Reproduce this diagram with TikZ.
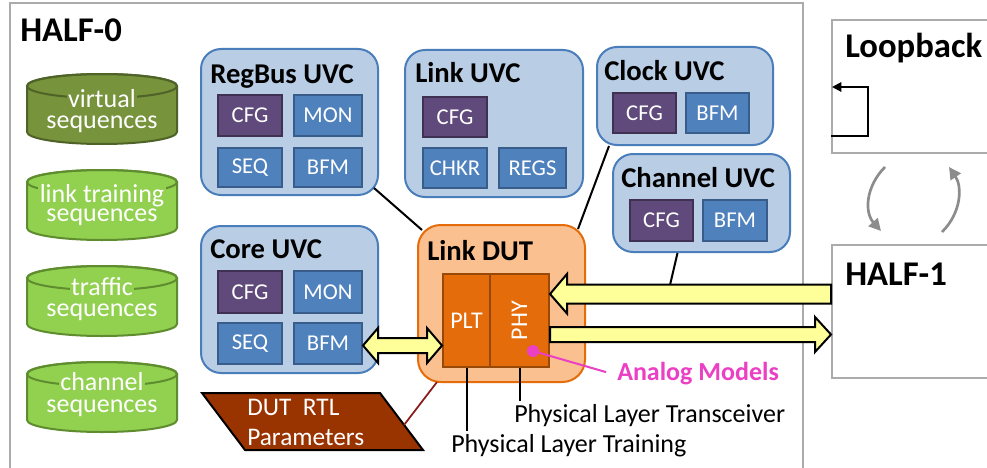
\documentclass[tikz,border=0pt]{standalone}
\usepackage{fontspec}
\usepackage{graphicx}
\setmainfont{Carlito}
\usetikzlibrary{calc,arrows.meta}
\definecolor{dkgreen}{HTML}{77933C}
\definecolor{dkgreenB}{HTML}{4F6228}
\definecolor{ltgreen}{HTML}{92D050}
\definecolor{ltgreenB}{HTML}{5E8C2E}
\definecolor{uvcfill}{HTML}{B9CDE5}
\definecolor{uvcdraw}{HTML}{4A7EBB}
\definecolor{cfgfill}{HTML}{604A7B}
\definecolor{cfgdraw}{HTML}{3F3151}
\definecolor{blkfill}{HTML}{4F81BD}
\definecolor{blkdraw}{HTML}{385D8A}
\definecolor{dutfill}{HTML}{FAC090}
\definecolor{dutdraw}{HTML}{E46C0A}
\definecolor{plfill}{HTML}{E46C0A}
\definecolor{pldraw}{HTML}{984807}
\definecolor{rtlfill}{HTML}{993300}
\definecolor{yel}{HTML}{FFFF99}
\definecolor{pinkc}{HTML}{EB3FC4}
\definecolor{framec}{HTML}{ABABAB}
\definecolor{rtlline}{HTML}{8B1A1A}
\definecolor{arrgray}{HTML}{8C8C8C}
\newcommand\fsz[2]{\fontsize{#1pt}{#2pt}\selectfont}
\newcommand\cylbody[3]{%
  \path[fill=#2, draw=#3, line width=1.5pt] (27,#1+12) -- (27,#1+58)
    arc[start angle=180,end angle=360,x radius=56.25pt,y radius=9pt] -- (177,#1+12)
    arc[start angle=0,end angle=180,x radius=56.25pt,y radius=9pt] -- cycle;
  \draw[draw=#3, line width=1.5pt] (102,#1+12) ellipse[x radius=56.25pt, y radius=9pt];
}
% box: style, name, x1, y1, x2, y2, text
\newcommand\bx[7]{\node[#1, minimum width={(#5-#3)*0.75pt}, minimum height={(#6-#4)*0.75pt}] (#2) at ({(#3+#5)/2},{(#4+#6)/2}) {#7};}
\begin{document}
\begin{tikzpicture}[x=0.75pt,y=-0.75pt,
  uvcbox/.style={draw=uvcdraw, fill=uvcfill, line width=1.5pt, rounded corners=15pt, inner sep=0pt},
  cfgbox/.style={draw=cfgdraw, fill=cfgfill, line width=1.5pt, inner sep=0pt, text=white, font=\fsz{17}{20}},
  blkbox/.style={draw=blkdraw, fill=blkfill, line width=1.5pt, inner sep=0pt, text=white, font=\fsz{17}{20}},
  plbox/.style={draw=pldraw, fill=plfill, line width=1.5pt, inner sep=0pt, text=white, font=\fsz{18}{20}},
  dutbox/.style={draw=dutdraw, fill=dutfill, line width=1.5pt, rounded corners=17pt, inner sep=0pt},
  uvctitle/.style={anchor=base west, inner sep=0pt, font=\bfseries\fsz{21.5}{24}},
  bigtitle/.style={anchor=base west, inner sep=0pt, font=\bfseries\fsz{26}{30}},
  sidebox/.style={draw=framec, fill=white, line width=1.5pt, inner sep=0pt},
  cyltext/.style={anchor=base, inner xsep=1pt, inner ysep=0pt, text=white, font=\fsz{19.5}{22}},
  plain/.style={anchor=base west, inner sep=0pt, font=\fsz{19.5}{22}},
  conn/.style={draw=black, line width=1.5pt},
  yarrow/.style={draw=black, fill=yel, line width=1.5pt, line join=miter},
  grayarr/.style={draw=arrgray, line width=2pt, -{Triangle[length=9pt,width=9pt]}}
]
\clip (0,0) rectangle (987,467);
\fill[white] (0,0) rectangle (987,467);
% HALF-0 frame
\draw[draw=framec, line width=1.8pt] (10,3) rectangle (803,490);
\node[bigtitle] (half0) at (20,42) {HALF-0};

% cylinders
\cylbody{74}{dkgreen}{dkgreenB}
\node[cyltext, fill=dkgreen, text depth=0pt] (c1a) at (102,107) {virtual};
\node[cyltext] (c1b) at (102,128) {sequences};
\cylbody{170}{ltgreen}{ltgreenB}
\node[cyltext, fill=ltgreen, text depth=0pt] (c2a) at (102,202) {link training};
\node[cyltext] (c2b) at (102,221) {sequences};
\cylbody{266}{ltgreen}{ltgreenB}
\node[cyltext, fill=ltgreen, text depth=0pt] (c3a) at (102,295) {traffic};
\node[cyltext] (c3b) at (102,316) {sequences};
\cylbody{362}{ltgreen}{ltgreenB}
\node[cyltext, fill=ltgreen, text depth=0pt] (c4a) at (102,390) {channel};
\node[cyltext] (c4b) at (102,412) {sequences};

\coordinate (chend) at (670,285);
\coordinate (rtlR) at (404,425);

% RegBus UVC
\bx{uvcbox}{regbus}{201}{49}{378}{195}{}
\node[uvctitle] (regbusT) at (210,84) {RegBus UVC};
\bx{cfgbox}{rbcfg}{218}{95}{282}{136}{CFG}
\bx{blkbox}{rbmon}{294}{95}{362}{136}{MON}
\bx{blkbox}{rbseq}{218}{148}{282}{187}{SEQ}
\bx{blkbox}{rbbfm}{294}{148}{362}{187}{BFM}

% Link UVC
\bx{uvcbox}{linkuvc}{405}{50}{583}{197}{}
\node[uvctitle] (linkT) at (415,83) {Link UVC};
\bx{cfgbox}{lkcfg}{423}{97}{487}{137}{CFG}
\bx{blkbox}{lkchkr}{423}{148}{487}{188}{CHKR}
\bx{blkbox}{lkregs}{499}{148}{566}{188}{REGS}

% Clock UVC
\bx{uvcbox}{clock}{597}{47}{773}{145}{}
\node[uvctitle] (clockT) at (604,80) {Clock UVC};
\bx{cfgbox}{ckcfg}{613}{93}{676}{133}{CFG}
\bx{blkbox}{ckbfm}{686}{93}{749}{133}{BFM}

% Channel UVC
\bx{uvcbox}{channel}{613}{154}{790}{252}{}
\node[uvctitle] (channelT) at (621,187) {Channel UVC};
\bx{cfgbox}{chcfg}{630}{200}{693}{241}{CFG}
\bx{blkbox}{chbfm}{703}{200}{767}{241}{BFM}

% Core UVC
\bx{uvcbox}{core}{201}{226}{378}{373}{}
\node[uvctitle] (coreT) at (210,258) {Core UVC};
\bx{cfgbox}{cocfg}{218}{271}{282}{313}{CFG}
\bx{blkbox}{comon}{294}{271}{362}{313}{MON}
\bx{blkbox}{coseq}{218}{323}{282}{364}{SEQ}
\bx{blkbox}{cobfm}{294}{323}{362}{364}{BFM}

% Link DUT
\bx{dutbox}{linkdut}{418}{225}{585}{382}{}
\node[uvctitle] (dutT) at (427,260) {Link DUT};
\bx{plbox}{pltbox}{443}{274}{490}{367}{PLT}
\bx{plbox}{phybox}{490}{274}{549}{367}{\rotatebox{90}{PHY}}

% connectors UVC -> DUT
\draw[conn] ($(regbus.south east)+(-5,-8)$) -- ($(linkdut.north west)+(5,6)$);
\draw[conn] ($(clock.south west)+(13,0)$) -- ($(linkdut.north east)+(-8,5)$);
\draw[conn] ($(channel.south)+(-24,0)$) -- (chend);

% DUT RTL parameters
\draw[fill=rtlfill, line width=1.5pt] (202,393) -- (380,393) -- (423,450) -- (245,450) -- cycle;
\node[plain, text=white, font=\fsz{19}{22}] (rtl1) at (247,415) {DUT\ \ RTL};
\node[plain, text=white, font=\fsz{19}{22}] (rtl2) at (247,445) {Parameters};
\draw[draw=rtlline, line width=1.3pt] ($(linkdut.south west)+(20,-1)$) -- (rtlR);

% HALF-1 and Loopback
\bx{sidebox}{loop}{832}{20}{1010}{153}{}
\node[bigtitle] (loopT) at (845,58) {Loopback};
\bx{sidebox}{half1}{832}{245}{1010}{378}{}
\node[bigtitle] (half1T) at (845,285) {HALF-1};
\draw[line width=1.5pt, -{Triangle[length=7pt,width=7pt]}] (loop.west |- 0,136) -- (868,136) -- (868,87) -- ($(loop.west |- 0,87)+(1,0)$);

% gray loop arrows
\coordinate (g1s) at (885,167);
\coordinate (g1e) at (881,231);
\coordinate (g2s) at (942,232);
\coordinate (g2e) at (949,167);
\draw[grayarr] (g1s) .. controls (866,186) and (864,212) .. (g1e);
\draw[grayarr] (g2s) .. controls (962,212) and (962,186) .. (g2e);

% yellow arrows
\coordinate (la) at (phybox.east |- 0,294);
\draw[yarrow] (la) -- ++(17,-20) -- ++(0,10.5) -- ($(half1.west |- la)+(0,-9.5)$) -- ++(0,19) -- ($(la)+(17,9.5)$) -- ++(0,10) -- cycle;
\coordinate (ra) at (half1.west |- 0,334.5);
\draw[yarrow] (ra) -- ++(-16,-17.5) -- ++(0,10) -- (phybox.east |- 0,327) -- ++(0,15) -- ($(ra)+(-16,7.5)$) -- ++(0,10) -- cycle;
\coordinate (da1) at (cobfm.east |- 0,345.5);
\coordinate (da2) at (pltbox.west |- 0,345.5);
\draw[yarrow] (da1) -- ++(15,-17.5) -- ++(0,10) -- ($(da2)+(-15,-7.5)$) -- ++(0,-10) -- (da2) -- ++(-15,17.5) -- ++(0,-10) -- ($(da1)+(15,7.5)$) -- ++(0,10) -- cycle;

% analog models
\node[circle, fill=pinkc, minimum size=9pt, inner sep=0pt] (dot) at (533,351) {};
\node[plain, text=pinkc, font=\bfseries\fsz{19.5}{22}] (analog) at (617,380) {Analog Models};
\draw[draw=pinkc, line width=1.5pt] (dot) -- ($(analog.west)+(-11,-1)$);

% physical layer labels
\node[plain] (plxT) at (514,422) {Physical Layer Transceiver};
\node[plain] (pltT) at (451,452) {Physical Layer Training};
\draw[conn] (pltbox.south) -- ++(0,63);
\draw[conn] (phybox.south) -- ++(0,33);
\end{tikzpicture}
\end{document}
